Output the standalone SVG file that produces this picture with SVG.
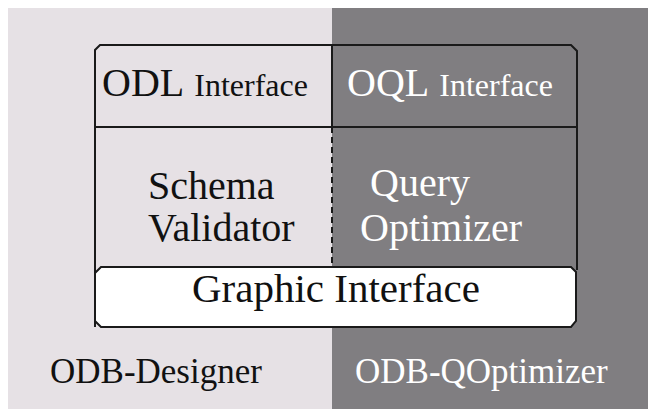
<svg xmlns="http://www.w3.org/2000/svg" width="648" height="409" viewBox="0 0 648 409" font-family="'Liberation Serif', 'Times New Roman', 'DejaVu Serif', serif">
<style>
text{font-family:'Liberation Serif','Times New Roman','DejaVu Serif',serif;}
.dk{fill:#111;}
.wt{fill:#fff;}
.ln{stroke:#1a1a1a;stroke-width:2;fill:none;}
</style>
<rect x="0" y="0" width="648" height="409" fill="#fff"/>
<g id="panel-designer">
<rect x="8" y="8" width="324" height="401" fill="#e6e1e5"/>
<text class="dk" x="50" y="383" font-size="35">ODB-Designer</text>
</g>
<g id="panel-qoptimizer">
<rect x="332" y="8" width="316" height="401" fill="#807e81"/>
<text class="wt" x="355" y="383" font-size="35">ODB-QOptimizer</text>
</g>
<g id="frame">
<path class="ln" d="M95,327 V50 L100,45 H571 L577,51 V270"/>
</g>
<g id="connectors">
<line class="ln" x1="95" y1="127" x2="577" y2="127"/>
<line class="ln" x1="332" y1="45" x2="332" y2="127"/>
<line x1="332" y1="127" x2="332" y2="267" stroke="#1a1a1a" stroke-width="2" stroke-dasharray="6,4"/>
</g>
<g id="odl-interface">
<text class="dk" x="102" y="96"><tspan font-size="40">ODL</tspan><tspan font-size="32" dx="10">Interface</tspan></text>
</g>
<g id="oql-interface">
<text class="wt" x="347" y="96"><tspan font-size="40">OQL</tspan><tspan font-size="32" dx="10">Interface</tspan></text>
</g>
<g id="schema-validator">
<text class="dk" x="148" y="199" font-size="40">Schema</text>
<text class="dk" x="148" y="241" font-size="40">Validator</text>
</g>
<g id="query-optimizer">
<text class="wt" x="370" y="196" font-size="40">Query</text>
<text class="wt" x="360" y="241" font-size="40">Optimizer</text>
</g>
<g id="graphic-interface">
<path d="M101,267 H571 L576,272 V321 L571,327 H101 L95,321 V273 Z" fill="#fff" stroke="#1a1a1a" stroke-width="2"/>
<text class="dk" x="336" y="302" font-size="41" text-anchor="middle">Graphic Interface</text>
</g>
</svg>
